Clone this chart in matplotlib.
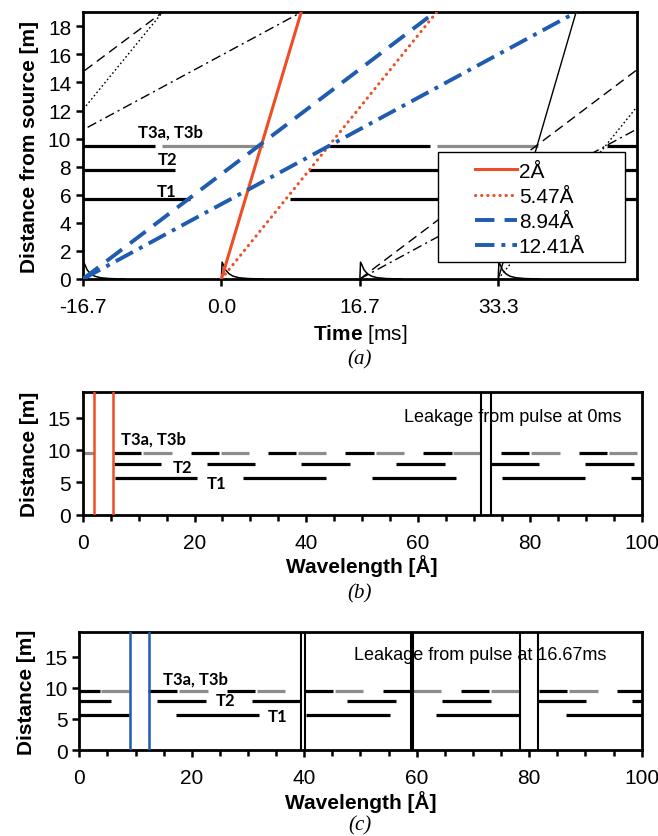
import matplotlib
matplotlib.use('Agg')
import matplotlib.pyplot as plt
from matplotlib.patches import Rectangle
from matplotlib.ticker import MultipleLocator

plt.rcParams['font.family'] = ['Liberation Sans', 'DejaVu Sans']
plt.rcParams['mathtext.fontset'] = 'custom'
plt.rcParams['mathtext.rm'] = 'Liberation Sans'
plt.rcParams['mathtext.bf'] = 'Liberation Sans:bold'

RED = '#EE4E26'
BLUE = '#1F5BAE'
GRAY = '#8C8C8C'

# ---------------- Panel (a): time-distance diagram ----------------
D_MAX = 19.0
pulse_times = [-16.67, 0.0, 16.67, 33.33]
pulse_tick_labels = ['-16.7', '0.0', '16.7', '33.3']
pulse_dt = [0.0, 0.08, 0.25, 0.5, 0.9, 1.4, 2.1, 3.2, 5.0]
pulse_h = [0.0, 1.2, 1.0, 0.65, 0.38, 0.2, 0.09, 0.03, 0.0]

main_labels = ['2Å', '5.47Å', '8.94Å', '12.41Å']
main_start = [0.0, 0.0, -16.67, -16.67]      # ms, at 0 m
main_arrival = [9.6, 25.9, 25.7, 42.7]       # ms, at 19 m

leak_kind = ['2Å', '5.47Å', '5.47Å', '8.94Å', '8.94Å', '12.41Å', '12.41Å']
leak_start = [33.33, -33.33, 33.33, -50.0, 16.67, -50.0, 16.67]
leak_arrival = [42.7, -7.1, 59.2, -7.1, 59.2, 9.6, 76.0]

chopper_names = ['T1', 'T2', 'T3']
chopper_dist = [5.7, 7.8, 9.5]

a_T1 = [(-16.67, -3.8), (8.2, 29.5), (41.5, 50.0)]
a_T2 = [(-16.67, -5.6), (10.5, 27.7), (43.8, 50.0)]
a_T3_black = [(-16.67, -8.0), (12.9, 25.1), (46.4, 50.0)]
a_T3_gray = [(-7.2, 5.0), (25.9, 38.1)]

# ---------------- Panel (b): leakage from pulse at 0 ms ----------------
b_T1 = [(5.8, 20.5), (28.7, 43.6), (51.8, 66.7), (75.0, 89.8), (98.1, 100)]
b_T2 = [(5.6, 14.0), (22.2, 30.9), (39.1, 47.9), (56.0, 64.8), (73.0, 81.7), (89.9, 98.6)]
b_T3_black = [(5.6, 10.4), (19.3, 24.4), (33.1, 38.2), (47.0, 52.1), (60.9, 66.0),
              (74.8, 79.9), (88.7, 93.8)]
b_T3_gray = [(0, 2.0), (10.8, 15.9), (24.7, 29.8), (38.5, 43.6), (52.4, 57.5),
             (66.3, 71.3), (80.2, 85.3), (94.1, 99.2)]
b_pass_main = [2.0, 5.47]
b_pass_leak = [71.3, 73.0]

# ---------------- Panel (c): leakage from pulse at 16.67 ms ----------------
c_T1 = [(0, 8.9), (17.2, 32.0), (40.3, 55.2), (63.4, 78.3), (86.6, 100)]
c_T2 = [(0, 5.6), (13.8, 22.5), (30.7, 39.4), (47.6, 56.3), (64.5, 73.2), (81.4, 90.1), (98.3, 100)]
c_T3_black = [(0, 3.6), (12.3, 17.4), (26.2, 31.3), (40.1, 45.2), (54.0, 59.0),
              (67.8, 72.9), (81.7, 86.8), (95.6, 100)]
c_T3_gray = [(3.8, 8.9), (17.7, 22.8), (31.6, 36.6), (45.5, 50.5), (59.4, 64.4),
             (73.2, 78.3), (87.1, 92.2)]
c_pass_main = [8.94, 12.41]
c_pass_leak = [39.4, 40.1, 59.0, 59.4, 78.3, 81.5]

main_style = {
    '2Å': dict(color=RED, lw=2.2, ls='-'),
    '5.47Å': dict(color=RED, lw=2.2, ls=(0, (0.1, 1.9)), dash_capstyle='round'),
    '8.94Å': dict(color=BLUE, lw=2.8, ls=(0, (5, 2.6))),
    '12.41Å': dict(color=BLUE, lw=2.8, ls=(0, (5, 1.8, 1, 1.8))),
}
leak_style = {
    '2Å': dict(color='black', lw=1.0, ls='-'),
    '5.47Å': dict(color='black', lw=1.0, ls=(0, (1.2, 1.8))),
    '8.94Å': dict(color='black', lw=1.0, ls=(0, (7, 4))),
    '12.41Å': dict(color='black', lw=1.0, ls=(0, (7, 3, 1.5, 3))),
}

TICK_FS = 15
LABEL_FS = 15
TLAB = dict(family=['Lato', 'DejaVu Sans'], fontweight='bold', fontsize=12)

fig = plt.figure(figsize=(6.58, 8.37), dpi=100)
axa = fig.add_axes([0.1261, 0.6655, 0.8415, 0.3186])
axb = fig.add_axes([0.1257, 0.3839, 0.8495, 0.1470])
axc = fig.add_axes([0.1205, 0.1027, 0.8547, 0.1413])

def style_spines(ax):
    for s in ax.spines.values():
        s.set_linewidth(2.0)
        s.set_color('black')

def draw_segments(ax, segs, y, color):
    for x0, x1 in segs:
        ax.plot([x0, x1], [y, y], color=color, lw=2.3, solid_capstyle='butt', zorder=2)

# ---- panel a ----
draw_segments(axa, a_T1, chopper_dist[0], 'black')
draw_segments(axa, a_T2, chopper_dist[1], 'black')
draw_segments(axa, a_T3_black, chopper_dist[2], 'black')
draw_segments(axa, a_T3_gray, chopper_dist[2], GRAY)

for t0 in pulse_times:
    axa.plot([t0 + dt for dt in pulse_dt], pulse_h, color='black', lw=1.1, zorder=3)

for kind, t0, t1 in zip(leak_kind, leak_start, leak_arrival):
    axa.plot([t0, t1], [0, D_MAX], zorder=3, **leak_style[kind])

handles = []
for lab, t0, t1 in zip(main_labels, main_start, main_arrival):
    h, = axa.plot([t0, t1], [0, D_MAX], zorder=4, label=lab, **main_style[lab])
    handles.append(h)

axa.text(-6.1, 10.5, 'T3a, T3b', ha='center', va='center', zorder=5, **TLAB)
axa.text(-6.5, 8.55, 'T2', ha='center', va='center', zorder=5, **TLAB)
axa.text(-6.6, 6.25, 'T1', ha='center', va='center', zorder=5, **TLAB)

axa.add_patch(Rectangle((0.641, 0.064), 0.338, 0.412, transform=axa.transAxes,
                        facecolor='white', edgecolor='black', lw=1.0, zorder=6))
leg = axa.legend(handles, main_labels, loc='upper left', bbox_to_anchor=(0.708, 0.44),
                 frameon=False, borderpad=0, borderaxespad=0, handlelength=2.0,
                 handletextpad=0.1, labelspacing=0.3, fontsize=15)
leg.set_zorder(7)

axa.set_xlim(-16.67, 50)
axa.set_ylim(0, D_MAX)
axa.set_xticks(pulse_times)
axa.set_xticklabels(pulse_tick_labels)
axa.set_yticks(range(0, 19, 2))
axa.tick_params(axis='both', width=1.8, length=5, labelsize=TICK_FS, direction='out')
axa.tick_params(axis='x', pad=8)
axa.set_xlabel(r'$\mathbf{Time}$ [ms]', fontsize=LABEL_FS, labelpad=4)
axa.set_ylabel('Distance from source [m]', fontsize=LABEL_FS, fontweight='bold', labelpad=6)
style_spines(axa)

# ---- panels b and c ----
def wl_panel(ax, T1, T2, T3b, T3g, main_x, main_color, leak_x, note, tpos):
    draw_segments(ax, T1, chopper_dist[0], 'black')
    draw_segments(ax, T2, chopper_dist[1], 'black')
    draw_segments(ax, T3b, chopper_dist[2], 'black')
    draw_segments(ax, T3g, chopper_dist[2], GRAY)
    for x in main_x:
        ax.axvline(x, color=main_color, lw=1.8, zorder=4)
    for x in leak_x:
        ax.axvline(x, color='black', lw=1.5, zorder=4)
    (x3, y3), (x2, y2), (x1, y1) = tpos
    ax.text(x3, y3, 'T3a, T3b', ha='center', va='center', zorder=5, **TLAB)
    ax.text(x2, y2, 'T2', ha='center', va='center', zorder=5, **TLAB)
    ax.text(x1, y1, 'T1', ha='center', va='center', zorder=5, **TLAB)
    ax.text(note[1], note[2], note[0], ha='center', va='center', fontsize=13, zorder=5)
    ax.set_xlim(0, 100)
    ax.set_ylim(0, D_MAX)
    ax.set_xticks(range(0, 101, 20))
    ax.xaxis.set_minor_locator(MultipleLocator(5))
    ax.set_yticks([0, 5, 10, 15])
    ax.tick_params(axis='both', which='major', width=1.8, length=5, labelsize=TICK_FS, direction='out')
    ax.tick_params(axis='x', which='minor', width=1.8, length=4, direction='out')
    ax.tick_params(axis='x', which='major', pad=8)
    ax.set_xlabel('Wavelength [Å]', fontsize=LABEL_FS, fontweight='bold', labelpad=2)
    ax.set_ylabel('Distance [m]', fontsize=LABEL_FS, fontweight='bold', labelpad=6)
    style_spines(ax)

wl_panel(axb, b_T1, b_T2, b_T3_black, b_T3_gray, b_pass_main, RED, b_pass_leak,
         ('Leakage from pulse at 0ms', 77.0, 15.1),
         [(12.6, 11.8), (17.9, 7.3), (24.0, 4.85)])
wl_panel(axc, c_T1, c_T2, c_T3_black, c_T3_gray, c_pass_main, BLUE, c_pass_leak,
         ('Leakage from pulse at 16.67ms', 71.2, 15.4),
         [(20.6, 11.5), (26.0, 8.1), (35.3, 5.4)])

SERIF = dict(family=['Liberation Serif', 'DejaVu Serif'], style='italic', fontsize=15,
             ha='center', va='center')
fig.text(0.547, 1 - 360 / 837, '(a)', **SERIF)
fig.text(0.547, 1 - 594 / 837, '(b)', **SERIF)
fig.text(0.547, 1 - 826 / 837, '(c)', **SERIF)

fig.savefig('out.png', dpi=100)
